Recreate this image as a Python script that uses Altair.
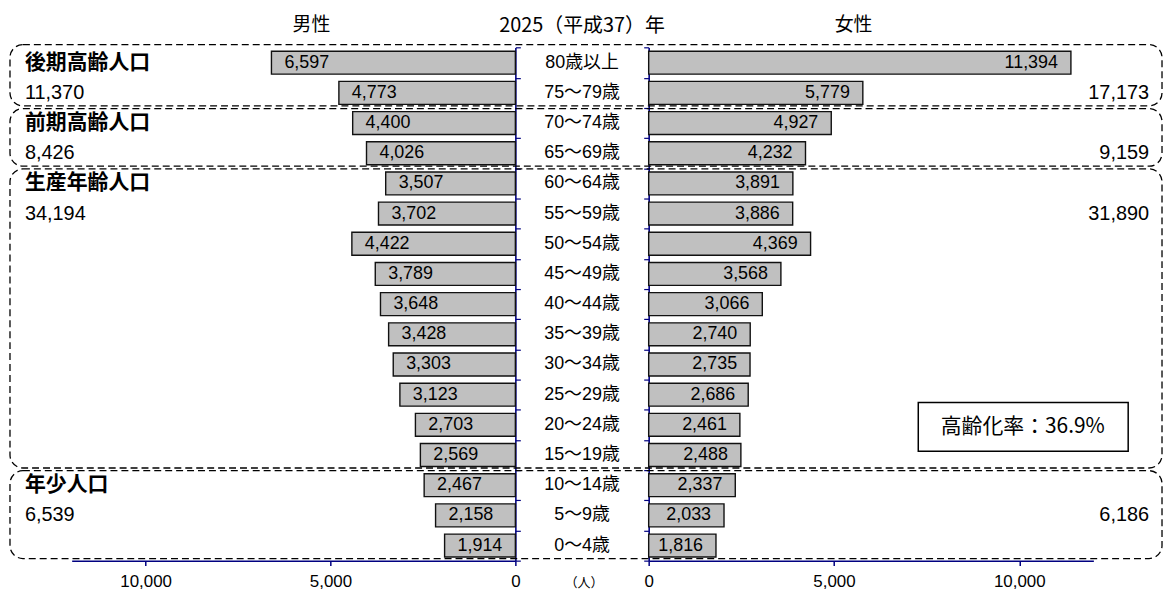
import altair as alt
import pandas as pd

# ---- data ----
ages = ["80歳以上", "75～79歳", "70～74歳", "65～69歳", "60～64歳", "55～59歳",
        "50～54歳", "45～49歳", "40～44歳", "35～39歳", "30～34歳", "25～29歳",
        "20～24歳", "15～19歳", "10～14歳", "5～9歳", "0～4歳"]
male = [6597, 4773, 4400, 4026, 3507, 3702, 4422, 3789, 3648, 3428, 3303, 3123,
        2703, 2569, 2467, 2158, 1914]
female = [11394, 5779, 4927, 4232, 3891, 3886, 4369, 3568, 3066, 2740, 2735, 2686,
          2461, 2488, 2337, 2033, 1816]
groups = (["後期高齢人口"] * 2 + ["前期高齢人口"] * 2 +
          ["生産年齢人口"] * 10 + ["年少人口"] * 3)
tick_values = [0, 5000, 10000]
title_text = "2025（平成37）年"
male_label = "男性"
female_label = "女性"
unit_label = "（人）"
rate_label = "高齢化率：36.9%"

df = pd.DataFrame({"idx": list(range(len(ages))), "age": ages,
                   "male": male, "female": female, "group": groups})

# ---- styles ----
NAVY = "#000080"
JP = "Noto Sans CJK JP"
NUMR = "Liberation Sans, Noto Sans CJK JP"
MIX = "Liberation Sans, Noto Sans CJK JP"

yscale = alt.Scale(domain=[-0.5, 16.5], range=[38.3, 554], nice=False, zero=False)
xl = alt.Scale(domain=[0, 12000], range=[510, 64], nice=False, zero=False)
xr = alt.Scale(domain=[0, 12000], range=[644, 1091], nice=False, zero=False)

xaxis = dict(values=tick_values, orient="bottom",
             labelExpr="format(datum.value, ',')",
             domainColor=NAVY, domainWidth=1.5, tickColor=NAVY, tickWidth=1.5,
             tickSize=5, labelFont=NUMR, labelFontSize=17, labelColor="#000",
             labelPadding=8, labelFlush=False, labelOverlap=False, grid=False,
             title=None)
yticks = [i - 0.5 for i in range(len(ages) + 1)]
yaxis = dict(values=yticks, labels=False, domainColor=NAVY, domainWidth=1.6,
             tickColor=NAVY, tickWidth=1.2, tickSize=5, grid=False, title=None)

bars = alt.Chart(df).transform_calculate(b0="datum.idx - 0.38", b1="datum.idx + 0.38")

left_bars = bars.mark_rect(fill="#C0C0C0", stroke="#111111", strokeWidth=1.4).encode(
    x=alt.X("male:Q", scale=xl, axis=alt.Axis(**xaxis)),
    x2=alt.datum(0),
    y=alt.Y("b0:Q", scale=yscale, axis=alt.Axis(orient="right", offset=-646, **yaxis)),
    y2="b1:Q",
)
right_bars = bars.mark_rect(fill="#C0C0C0", stroke="#111111", strokeWidth=1.4).encode(
    x=alt.X("female:Q", scale=xr, axis=alt.Axis(**xaxis)),
    x2=alt.datum(0),
    y=alt.Y("b0:Q", scale=yscale, axis=alt.Axis(orient="left", offset=-644, **yaxis)),
    y2="b1:Q",
)

left_lab = alt.Chart(df).mark_text(align="left", baseline="middle", dx=13, font=NUMR,
                                   fontSize=18, color="#000").encode(
    x=alt.X("male:Q", scale=xl, axis=None),
    y=alt.Y("idx:Q", scale=yscale, axis=None),
    text=alt.Text("male:Q", format=","),
)
right_lab = alt.Chart(df).mark_text(align="right", baseline="middle", dx=-13, font=NUMR,
                                    fontSize=18, color="#000").encode(
    x=alt.X("female:Q", scale=xr, axis=None),
    y=alt.Y("idx:Q", scale=yscale, axis=None),
    text=alt.Text("female:Q", format=","),
)
age_lab = alt.Chart(df).mark_text(align="center", baseline="middle", font=MIX,
                                  fontSize=18, color="#000").encode(
    x=alt.value(577),
    y=alt.Y("idx:Q", scale=yscale, axis=None),
    text="age:N",
)

gbase = alt.Chart(df).transform_aggregate(
    first="min(idx)", last="max(idx)", msum="sum(male)", fsum="sum(female)",
    groupby=["group"],
).transform_calculate(
    top="datum.first == 0 ? -0.6 : datum.first - 0.48",
    bot="datum.last + 0.43",
    numrow="datum.first + 1",
)
boxes = gbase.mark_rect(fillOpacity=0, stroke="#000", strokeWidth=1.3,
                        strokeDash=[7, 4], cornerRadius=13).encode(
    x=alt.value(2), x2=alt.value(1160),
    y=alt.Y("top:Q", scale=yscale, axis=None), y2="bot:Q",
)
gname = gbase.mark_text(align="left", baseline="middle", font=JP, fontSize=21,
                        fontWeight="bold", color="#000").encode(
    x=alt.value(17), y=alt.Y("first:Q", scale=yscale, axis=None), text="group:N",
)
gmale = gbase.mark_text(align="left", baseline="middle", font=NUMR, fontSize=20,
                        color="#000").encode(
    x=alt.value(17), y=alt.Y("numrow:Q", scale=yscale, axis=None),
    text=alt.Text("msum:Q", format=","),
)
gfemale = gbase.mark_text(align="right", baseline="middle", font=NUMR, fontSize=20,
                          color="#000").encode(
    x=alt.value(1147), y=alt.Y("numrow:Q", scale=yscale, axis=None),
    text=alt.Text("fsum:Q", format=","),
)

rate_df = pd.DataFrame({"t": [rate_label]})
rate_box = alt.Chart(rate_df).mark_rect(fill="white", stroke="#000", strokeWidth=1.5).encode(
    x=alt.value(915), x2=alt.value(1126), y=alt.value(395), y2=alt.value(444))
rate_txt = alt.Chart(rate_df).mark_text(align="center", baseline="middle", font=JP,
                                        fontSize=21, color="#000").encode(
    x=alt.value(1020), y=alt.value(420), text="t:N")

tdf = pd.DataFrame({"t": [title_text]})
title = alt.Chart(tdf).mark_text(align="center", baseline="middle", font=JP,
                                 fontSize=20, color="#000").encode(
    x=alt.value(577), y=alt.value(17), text="t:N")
mdf = pd.DataFrame({"t": [male_label]})
mlab = alt.Chart(mdf).mark_text(align="center", baseline="middle", font=JP,
                                fontSize=19, color="#000").encode(
    x=alt.value(305), y=alt.value(16), text="t:N")
fdf = pd.DataFrame({"t": [female_label]})
flab = alt.Chart(fdf).mark_text(align="center", baseline="middle", font=JP,
                                fontSize=19, color="#000").encode(
    x=alt.value(850), y=alt.value(16), text="t:N")
udf = pd.DataFrame({"t": [unit_label]})
ulab = alt.Chart(udf).mark_text(align="center", baseline="middle", font=JP,
                                fontSize=13, color="#000").encode(
    x=alt.value(579), y=alt.value(576), text="t:N")

chart = alt.layer(
    boxes, left_bars, right_bars, left_lab, right_lab, age_lab,
    gname, gmale, gfemale, rate_box, rate_txt, title, mlab, flab, ulab,
).resolve_scale(x="independent", y="independent").resolve_axis(
    x="independent", y="independent"
).properties(
    width=1156, height=554,
    autosize=alt.AutoSizeParams(type="none"),
    padding={"left": 0, "top": 0, "right": 6, "bottom": 30},
).configure_view(strokeWidth=0).configure_axisX(
    labelFontSize=17, labelFont=NUMR, labelColor="#000"
)

chart.save("out.html", embed_options={"renderer": "svg", "actions": False})
